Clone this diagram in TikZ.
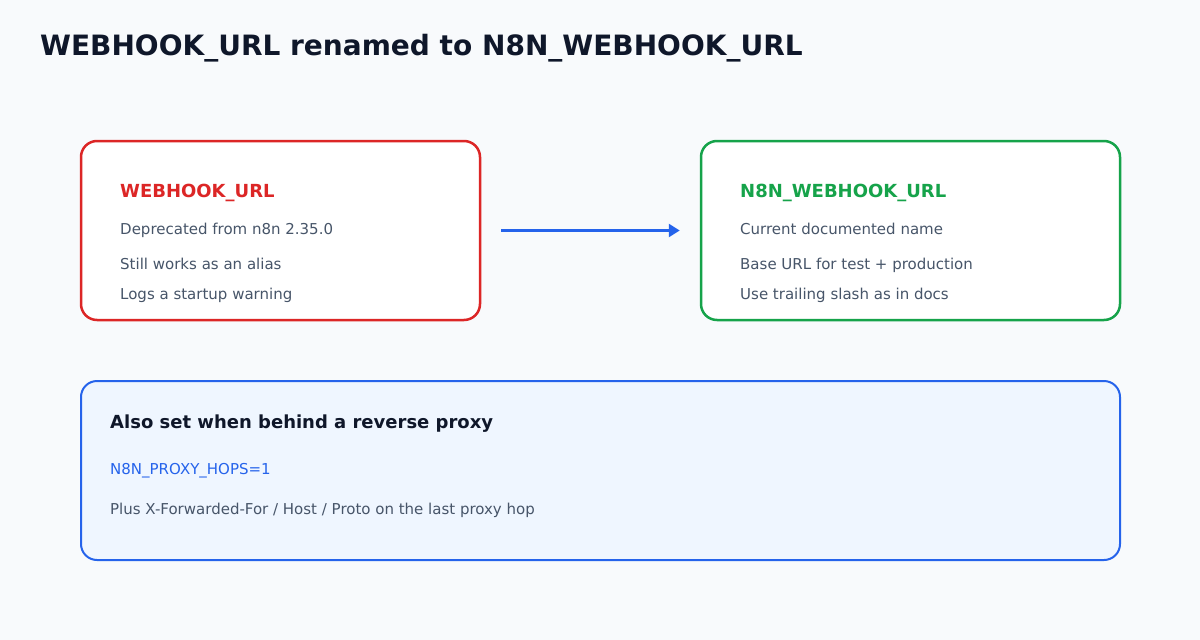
\documentclass[tikz,border=0pt]{standalone}
\usepackage{fontspec}
\setmainfont{DejaVu Sans}
\usetikzlibrary{arrows.meta}
\definecolor{bg}{HTML}{F8FAFC}
\definecolor{ink}{HTML}{0F172A}
\definecolor{body}{HTML}{475569}
\definecolor{oldred}{HTML}{DC2626}
\definecolor{newgreen}{HTML}{16A34A}
\definecolor{accent}{HTML}{2563EB}
\definecolor{panel}{HTML}{EFF6FF}
\tikzset{
  card/.style={draw, line width=2.5pt, rounded corners=16pt, fill=white, inner sep=0pt},
  heading/.style={anchor=base west, inner sep=0pt, font=\fontsize{18}{22}\selectfont\bfseries},
  line/.style={anchor=base west, inner sep=0pt, text=body, font=\fontsize{15}{18}\selectfont},
  flow/.style={draw=accent, line width=2.5pt, -{Triangle[length=11pt,width=13pt]}}
}
\begin{document}
\begin{tikzpicture}[x=1pt,y=-1pt]
\fill[bg] (0,0) rectangle (1200,640);
\useasboundingbox (0,0) rectangle (1200,640);
\node[anchor=base west, inner sep=0pt, text=ink, font=\fontsize{28}{32}\selectfont\bfseries] (title) at (40,55) {WEBHOOK\_URL renamed to N8N\_WEBHOOK\_URL};

\node[card, draw=oldred, minimum width=399pt, minimum height=179pt] (old) at (280.5,230.5) {};
\node[heading, text=oldred] (oldh) at (120,197) {WEBHOOK\_URL};
\node[line] (old1) at (120,234) {Deprecated from n8n 2.35.0};
\node[line] (old2) at (120,269) {Still works as an alias};
\node[line] (old3) at (120,299) {Logs a startup warning};

\node[card, draw=newgreen, minimum width=419pt, minimum height=179pt] (new) at (910.5,230.5) {};
\node[heading, text=newgreen] (newh) at (740,197) {N8N\_WEBHOOK\_URL};
\node[line] (new1) at (740,234) {Current documented name};
\node[line] (new2) at (740,269) {Base URL for test + production};
\node[line] (new3) at (740,299) {Use trailing slash as in docs};

\draw[flow] ([xshift=20pt]old.east) -- ([xshift=-20pt]new.west);

\node[card, draw=accent, fill=panel, line width=2pt, minimum width=1039pt, minimum height=179pt] (proxy) at (600.5,470.5) {};
\node[heading, text=ink] (proxyh) at (110,428) {Also set when behind a reverse proxy};
\node[line, text=accent] (proxy1) at (110,474) {N8N\_PROXY\_HOPS=1};
\node[line] (proxy2) at (110,514) {Plus X-Forwarded-For / Host / Proto on the last proxy hop};
\end{tikzpicture}
\end{document}
